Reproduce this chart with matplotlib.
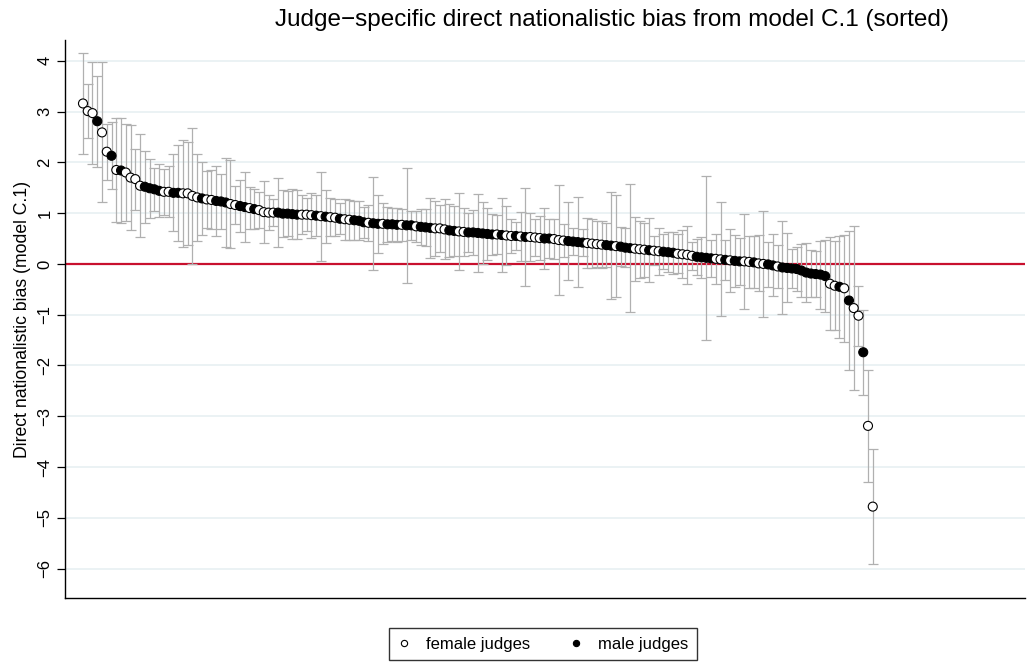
import matplotlib
matplotlib.use("Agg")
import matplotlib.pyplot as plt
import numpy as np
from matplotlib.lines import Line2D

plt.rcParams["font.family"] = ["Liberation Sans", "DejaVu Sans"]

# judge-level estimates, sorted from largest to smallest
estimate = [
    3.16, 3.01, 2.97, 2.81, 2.59, 2.21, 2.13, 1.85, 1.84, 1.80,
    1.70, 1.67, 1.54, 1.52, 1.49, 1.47, 1.44, 1.42, 1.42, 1.40,
    1.40, 1.39, 1.39, 1.34, 1.31, 1.29, 1.27, 1.26, 1.24, 1.23,
    1.21, 1.18, 1.16, 1.14, 1.12, 1.10, 1.08, 1.06, 1.02, 1.01,
    1.01, 1.01, 0.99, 0.99, 0.98, 0.97, 0.97, 0.97, 0.96, 0.95,
    0.94, 0.93, 0.92, 0.91, 0.89, 0.88, 0.87, 0.86, 0.85, 0.82,
    0.81, 0.80, 0.79, 0.79, 0.78, 0.78, 0.77, 0.77, 0.76, 0.76,
    0.74, 0.73, 0.72, 0.71, 0.70, 0.70, 0.68, 0.66, 0.65, 0.64,
    0.63, 0.62, 0.62, 0.61, 0.60, 0.59, 0.58, 0.58, 0.57, 0.56,
    0.55, 0.55, 0.54, 0.53, 0.53, 0.52, 0.51, 0.50, 0.50, 0.49,
    0.47, 0.46, 0.45, 0.44, 0.43, 0.42, 0.41, 0.40, 0.39, 0.38,
    0.37, 0.36, 0.35, 0.34, 0.32, 0.31, 0.30, 0.29, 0.28, 0.27,
    0.26, 0.25, 0.24, 0.23, 0.22, 0.20, 0.19, 0.18, 0.16, 0.14,
    0.13, 0.12, 0.11, 0.10, 0.09, 0.08, 0.07, 0.06, 0.05, 0.05,
    0.04, 0.03, 0.01, 0.00, -0.01, -0.03, -0.05, -0.07, -0.08, -0.09,
    -0.10, -0.13, -0.17, -0.19, -0.20, -0.21, -0.24, -0.39, -0.43, -0.45,
    -0.48, -0.72, -0.87, -1.02, -1.74, -3.19, -4.78,
]

# half-width of each confidence interval
ci_half = [
    0.99, 0.53, 1.00, 0.90, 1.38, 0.55, 0.66, 1.03, 1.03, 0.95,
    1.03, 0.60, 1.01, 0.71, 0.58, 0.42, 0.52, 0.45, 0.50, 0.76,
    0.95, 1.06, 1.02, 1.34, 0.85, 0.72, 0.56, 0.58, 0.69, 0.55,
    0.87, 0.87, 0.38, 0.52, 0.69, 0.42, 0.40, 0.35, 0.61, 0.34,
    0.26, 0.68, 0.46, 0.44, 0.49, 0.48, 0.38, 0.32, 0.44, 0.41,
    0.88, 0.52, 0.38, 0.36, 0.30, 0.40, 0.39, 0.38, 0.38, 0.30,
    0.35, 0.92, 0.57, 0.40, 0.35, 0.33, 0.33, 0.31, 1.13, 0.29,
    0.31, 0.35, 0.37, 0.59, 0.54, 0.47, 0.59, 0.52, 0.49, 0.76,
    0.48, 0.39, 0.45, 0.77, 0.61, 0.51, 0.41, 0.39, 0.73, 0.59,
    0.33, 0.27, 0.49, 0.96, 0.47, 0.37, 0.44, 0.61, 0.38, 0.40,
    1.08, 0.33, 0.77, 0.26, 0.88, 0.26, 0.50, 0.49, 0.45, 0.46,
    0.43, 1.06, 1.01, 0.39, 0.38, 1.26, 0.63, 0.56, 0.53, 0.63,
    0.29, 0.46, 0.34, 0.39, 0.41, 0.38, 0.47, 0.57, 0.28, 0.36,
    0.40, 1.61, 0.36, 0.49, 1.12, 0.39, 0.62, 0.51, 0.46, 0.94,
    0.51, 0.51, 0.55, 1.05, 0.44, 0.61, 0.43, 0.92, 0.68, 0.38,
    0.43, 0.53, 0.59, 0.46, 0.46, 0.67, 0.71, 0.92, 0.88, 1.00,
    1.05, 1.36, 1.62, 0.59, 0.84, 1.11, 1.13,
]

# F = female judge, M = male judge
gender = list(
    "FFFMFFMFMF" "FFFMMMMFFM" "MFFFFMFFMM" "MFFMMFMFFF" "FMMMMMFFFM"
    "FMFFMFFMMM" "FMMFMMMFMM" "FMMMFFFMMF" "FMMMMMMFMF" "FMFMFFFMMF"
    "FFMMMMFFFF" "MMFMMMFFFM" "FFMMMFFFFM" "MMMFFMFMMF" "FMFFMMFMMM"
    "MMMMMMMFFM" "FMFFMFF"
)

y_ticks = [-6, -5, -4, -3, -2, -1, 0, 1, 2, 3, 4]

est = np.array(estimate)
half = np.array(ci_half)
rank = np.arange(len(est))
faces = ["black" if g == "M" else "white" for g in gender]

fig = plt.figure(figsize=(10.27, 6.64), dpi=100)
ax = fig.add_axes([65 / 1027, 66 / 664, 960 / 1027, 558 / 664])

for t in y_ticks:
    ax.axhline(t, color="#e8f0f2", lw=1.2, zorder=0)
ax.axhline(0, color="#c8102e", lw=1.6, zorder=1)

ax.errorbar(rank, est, yerr=half, fmt="none", ecolor="#b0b0b0",
            elinewidth=0.9, capsize=3.6, capthick=0.9, zorder=2)
ax.scatter(rank, est, s=42, c=faces, edgecolors="black",
           linewidths=0.8, zorder=3)

ax.set_xlim(-3.78, 198.0)
ax.set_ylim(-6.58, 4.41)
ax.set_xticks([])
ax.set_yticks(y_ticks)
ax.set_yticklabels([str(t).replace("-", "\u2212") for t in y_ticks],
                   rotation=90, va="center", fontsize=12)
ax.tick_params(axis="y", direction="out", length=6, width=0.9, pad=3)
for side in ("top", "right"):
    ax.spines[side].set_visible(False)
for side in ("left", "bottom"):
    ax.spines[side].set_linewidth(1.0)

ax.set_ylabel("Direct nationalistic bias (model C.1)", fontsize=12.7,
              labelpad=5)
fig.text(612 / 1027, 1 - 20 / 664,
         "Judge\u2212specific direct nationalistic bias from model C.1 (sorted)",
         ha="center", va="center", fontsize=17.5)

handles = [
    Line2D([], [], ls="none", marker="o", ms=4.5, mfc="white",
           mec="black", mew=0.8, label="female judges"),
    Line2D([], [], ls="none", marker="o", ms=4.5, mfc="black",
           mec="black", mew=0.8, label="male judges"),
]
leg = fig.legend(handles=handles, loc="center",
                 bbox_to_anchor=(543 / 1027, 1 - 644 / 664), ncol=2,
                 frameon=True, fancybox=False, fontsize=12,
                 handlelength=0.8, handletextpad=0.93, columnspacing=2.35,
                 borderpad=0.5, borderaxespad=0)
leg.get_frame().set_edgecolor("black")
leg.get_frame().set_linewidth(1.0)

fig.savefig("out.png", dpi=100)
